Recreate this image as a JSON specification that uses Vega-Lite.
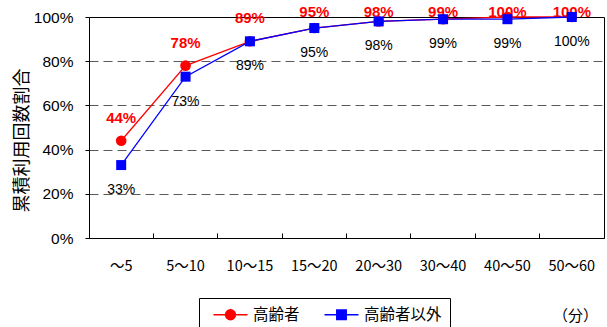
{
  "$schema": "https://vega.github.io/schema/vega-lite/v6.json",
  "width": 515,
  "height": 221,
  "autosize": {"type": "none"},
  "padding": {"left": 89, "top": 17, "right": 3, "bottom": 89},
  "background": "white",
  "config": {
    "view": {"stroke": "black", "strokeWidth": 1},
    "font": "Liberation Sans",
    "legend": {
      "orient": "none",
      "legendX": 110,
      "legendY": 281,
      "direction": "horizontal",
      "strokeColor": "black",
      "fillColor": "white",
      "padding": 7.5,
      "symbolSize": 256,
      "symbolStrokeWidth": 1.3,
      "symbolOffset": 15,
      "labelOffset": 13.5,
      "columnPadding": 17,
      "labelFont": "Noto Sans CJK JP",
      "labelFontSize": 15.5,
      "labelColor": "black"
    }
  },
  "data": {
    "values": [
      {"range": "～5", "group": "高齢者", "share": 0.44},
      {"range": "5～10", "group": "高齢者", "share": 0.78},
      {"range": "10～15", "group": "高齢者", "share": 0.89},
      {"range": "15～20", "group": "高齢者", "share": 0.95},
      {"range": "20～30", "group": "高齢者", "share": 0.98},
      {"range": "30～40", "group": "高齢者", "share": 0.99},
      {"range": "40～50", "group": "高齢者", "share": 1.0},
      {"range": "50～60", "group": "高齢者", "share": 1.0},
      {"range": "～5", "group": "高齢者以外", "share": 0.33},
      {"range": "5～10", "group": "高齢者以外", "share": 0.73},
      {"range": "10～15", "group": "高齢者以外", "share": 0.89},
      {"range": "15～20", "group": "高齢者以外", "share": 0.95},
      {"range": "20～30", "group": "高齢者以外", "share": 0.98},
      {"range": "30～40", "group": "高齢者以外", "share": 0.99},
      {"range": "40～50", "group": "高齢者以外", "share": 0.99},
      {"range": "50～60", "group": "高齢者以外", "share": 1.0}
    ]
  },
  "encoding": {
    "x": {
      "field": "range",
      "type": "ordinal",
      "sort": null,
      "scale": {"type": "band", "paddingInner": 0, "paddingOuter": 0},
      "axis": {
        "bandPosition": 0,
        "grid": false,
        "domainColor": "black",
        "tickColor": "black",
        "tickSize": -5,
        "labelAngle": 0,
        "labelPadding": 26,
        "labelFont": "Noto Sans CJK JP",
        "labelFontSize": 14.5,
        "labelColor": "black",
        "title": "（分）",
        "titleX": 486,
        "titleY": 77,
        "titleAlign": "center",
        "titleBaseline": "middle",
        "titleFont": "Noto Sans CJK JP",
        "titleFontSize": 15,
        "titleFontWeight": "normal",
        "titleColor": "black"
      }
    }
  },
  "layer": [
    {
      "transform": [{"filter": "datum.group === '高齢者'"}],
      "mark": {
        "type": "text",
        "color": "#ff0000",
        "font": "Liberation Sans",
        "fontSize": 15,
        "fontWeight": "bold",
        "baseline": "middle",
        "align": "center",
        "dy": -5
      },
      "encoding": {
        "y": {
          "field": "share",
          "type": "quantitative",
          "scale": {"domain": [-0.0814, 0.9186], "nice": false, "zero": false, "clamp": true},
          "axis": null
        },
        "text": {"field": "share", "type": "quantitative", "format": ".0%"}
      }
    },
    {
      "encoding": {
        "y": {
          "field": "share",
          "type": "quantitative",
          "scale": {"domain": [0, 1], "nice": false},
          "axis": {
            "orient": "left",
            "values": [0, 0.2, 0.4, 0.6, 0.8, 1],
            "format": ".0%",
            "domainColor": "black",
            "tickColor": "black",
            "tickSize": 4,
            "labelPadding": 12,
            "labelFont": "Liberation Sans",
            "labelFontSize": 15.5,
            "labelColor": "black",
            "grid": true,
            "gridColor": "#5a5a5a",
            "gridDash": [9, 5],
            "gridOpacity": {
              "condition": {"test": "datum.value === 0 || datum.value === 1", "value": 0},
              "value": 1
            },
            "title": "累積利用回数割合",
            "titleFont": "Noto Sans CJK JP",
            "titleFontSize": 18,
            "titleFontWeight": "normal",
            "titleColor": "black",
            "titleAngle": -90,
            "titleAlign": "center",
            "titleBaseline": "middle",
            "titleX": -67,
            "titleY": 123
          }
        },
        "color": {
          "field": "group",
          "type": "nominal",
          "scale": {"domain": ["高齢者", "高齢者以外"], "range": ["#ff0000", "#0000ff"]},
          "legend": {
            "title": null,
            "encode": {
              "symbols": {
                "update": {
                  "shape": {"signal": "datum.value === '高齢者' ? 'M-2.125,0H2.125M-0.625,0A0.625,0.625 0 1,0 0.625,0A0.625,0.625 0 1,0 -0.625,0Z' : 'M-2.125,0H2.125M-0.6,-0.6H0.6V0.6H-0.6Z'"},
                  "strokeWidth": {"value": 1.3},
                  "opacity": {"value": 1}
                }
              }
            }
          }
        }
      },
      "layer": [
        {
          "transform": [{"filter": "datum.group === '高齢者以外'"}],
          "mark": {
            "type": "text",
            "color": "black",
            "font": "Liberation Sans",
            "fontSize": 14,
            "baseline": "middle",
            "align": "center",
            "dy": 25
          },
          "encoding": {
            "text": {"field": "share", "type": "quantitative", "format": ".0%"},
            "color": {"value": "black"}
          }
        },
        {
          "mark": {"type": "line", "strokeWidth": 1.3}
        },
        {
          "transform": [{"filter": "datum.group === '高齢者'"}],
          "mark": {"type": "point", "shape": "circle", "filled": true, "opacity": 1, "size": 113}
        },
        {
          "transform": [{"filter": "datum.group === '高齢者以外'"}],
          "mark": {"type": "point", "shape": "square", "filled": true, "opacity": 1, "size": 100}
        }
      ]
    }
  ],
  "resolve": {"scale": {"y": "independent"}}
}
